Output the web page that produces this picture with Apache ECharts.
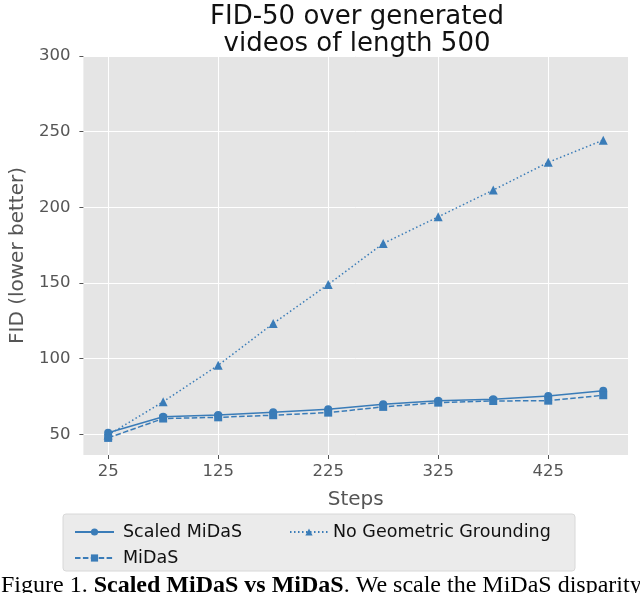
<!DOCTYPE html>
<html>
<head>
<meta charset="utf-8">
<script src="https://cdn.jsdelivr.net/npm/echarts@6/dist/echarts.min.js"></script>
<style>
  html, body { margin: 0; padding: 0; background: #fff; }
  #chart { width: 640px; height: 593px; }
</style>
</head>
<body>
<div id="chart"></div>
<script>
// data
const steps = [25, 75, 125, 175, 225, 275, 325, 375, 425, 475];
const scaledMidas = [51.0, 61.6, 62.7, 64.5, 66.6, 69.8, 72.2, 73.1, 75.3, 78.7];
const midas = [47.6, 60.4, 61.2, 62.6, 64.3, 68.1, 70.9, 72.0, 72.2, 75.8];
const noGeometric = [49.5, 71.5, 95.6, 123.2, 149.0, 176.1, 193.7, 211.4, 229.7, 244.4];
const xTicks = [25, 125, 225, 325, 425];
const yTicks = [50, 100, 150, 200, 250, 300];

const blue = "#3a7cb8";
const font = "DejaVu Sans";

function pairs(ys) {
  return steps.map((x, i) => [x, ys[i]]);
}

const chart = echarts.init(document.getElementById("chart"));

chart.setOption({
  animation: false,
  textStyle: { fontFamily: font },
  title: {
    text: "FID-50 over generated\nvideos of length 500",
    left: 352,
    textAlign: "center",
    top: -1,
    textStyle: {
      fontFamily: font,
      fontSize: 26,
      fontWeight: "normal",
      color: "#111",
      lineHeight: 27
    }
  },
  grid: {
    left: 81,
    right: 12,
    top: 56,
    bottom: 138,
    show: true,
    backgroundColor: "#e5e5e5",
    borderWidth: 0
  },
  xAxis: {
    type: "value",
    min: 2.5,
    max: 497.5,
    name: "Steps",
    nameLocation: "middle",
    nameGap: 35,
    nameTextStyle: { fontSize: 20, color: "#555" },
    axisLine: { show: false },
    axisTick: {
      show: true,
      length: 4,
      customValues: xTicks,
      lineStyle: { color: "#555" }
    },
    axisLabel: {
      customValues: xTicks,
      fontSize: 16.5,
      color: "#555",
      margin: 8
    },
    splitLine: { show: true, lineStyle: { color: "#fff", width: 1 } }
  },
  yAxis: {
    type: "value",
    min: 36.3,
    max: 300,
    name: "FID (lower better)",
    nameLocation: "middle",
    nameGap: 55,
    nameTextStyle: { fontSize: 20, color: "#555" },
    axisLine: { show: false },
    axisTick: {
      show: true,
      length: 4,
      customValues: yTicks,
      lineStyle: { color: "#555" }
    },
    axisLabel: {
      customValues: yTicks,
      fontSize: 16.5,
      color: "#555",
      margin: 13
    },
    splitLine: { show: true, lineStyle: { color: "#fff", width: 1 } }
  },
  legend: [
    {
      data: ["Scaled MiDaS", "MiDaS"],
      orient: "vertical",
      left: 69,
      top: 518,
      itemWidth: 39,
      itemHeight: 9,
      itemGap: 8,
      textStyle: { fontSize: 17.5, color: "#111", padding: [0, 0, 0, 4] }
    },
    {
      data: ["No Geometric Grounding"],
      orient: "vertical",
      left: 284,
      top: 518,
      itemWidth: 38,
      itemHeight: 9,
      textStyle: { fontSize: 17.5, color: "#111" }
    }
  ],
  graphic: [
    {
      type: "rect",
      z: -1,
      shape: { x: 63, y: 514, width: 512, height: 57, r: 3 },
      style: { fill: "#ebebeb", stroke: "#d8d8d8", lineWidth: 1 }
    },
    {
      type: "text",
      left: 1,
      top: 574,
      style: {
        text: "{n|Figure 1. }{b|Scaled MiDaS vs MiDaS}{n|. We scale the MiDaS disparity}",
        rich: {
          n: { fontFamily: "Liberation Serif", fontSize: 24, fill: "#000" },
          b: { fontFamily: "Liberation Serif", fontSize: 24, fontWeight: "bold", fill: "#000" }
        }
      }
    }
  ],
  series: [
    {
      name: "Scaled MiDaS",
      type: "line",
      data: pairs(scaledMidas),
      symbol: "circle",
      symbolSize: 8,
      itemStyle: { color: blue },
      lineStyle: { color: blue, width: 1.5, type: "solid" }
    },
    {
      name: "MiDaS",
      type: "line",
      data: pairs(midas),
      symbol: "rect",
      symbolSize: 8,
      itemStyle: { color: blue },
      lineStyle: { color: blue, width: 1.5, type: [5.5, 2.4] }
    },
    {
      name: "No Geometric Grounding",
      type: "line",
      data: pairs(noGeometric),
      symbol: "triangle",
      symbolSize: 9,
      itemStyle: { color: blue },
      lineStyle: { color: blue, width: 1.5, type: [1.5, 2.5] }
    }
  ]
});
</script>
</body>
</html>
